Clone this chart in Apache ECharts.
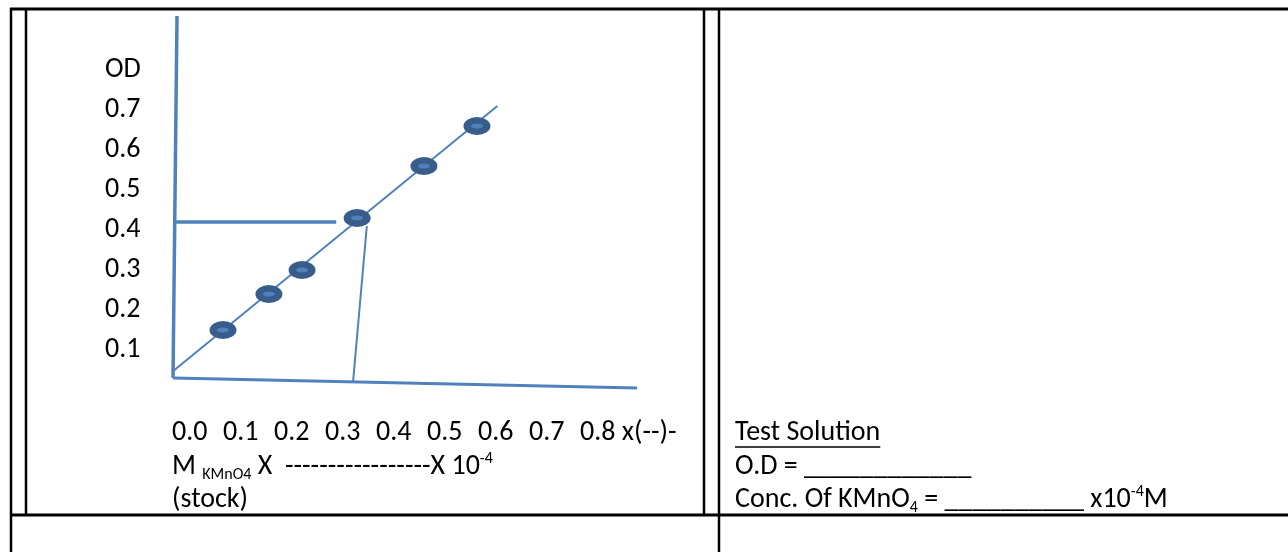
<!DOCTYPE html>
<html>
<head>
<meta charset="utf-8">
<script src="https://cdn.jsdelivr.net/npm/echarts@6/dist/echarts.min.js"></script>
<style>
  html, body { margin: 0; padding: 0; background: #fff; }
  #chart { width: 1288px; height: 552px; }
</style>
</head>
<body>
<div id="chart"></div>
<script>
// tick labels as typed in the sheet
const yTickLabels = ['0.1', '0.2', '0.3', '0.4', '0.5', '0.6', '0.7'];
const yAxisTitle = 'OD';
const xTickLabels = ['0.0', '0.1', '0.2', '0.3', '0.4', '0.5', '0.6', '0.7', '0.8'];
const xUnitSuffix = 'x(--)-';

// standard points (conc, OD) read against the typed scales
const concValues = [0.100, 0.190, 0.255, 0.363, 0.494, 0.598];
const odValues = [0.15, 0.24, 0.30, 0.43, 0.56, 0.66];

// hand drawn lines: best fit, axes, reading of the test solution
const fitLine = [[0.0, 0.045], [0.638, 0.71]];
const yAxisStroke = [[0.0098, 0.935], [0.002, 0.03]];
const xAxisStroke = [[0.002, 0.03], [0.912, 0.005]];
const readOdLine = [[0.008, 0.42], [0.322, 0.42]];
const readConcLine = [[0.382, 0.41], [0.355, 0.02]];

const FONT = 'Carlito, Lato, sans-serif';
const FS = 28;
const BLUE = '#4F81BD';
const DARK = '#385D8A';

const rowY = [433, 467, 500];
const leftX = 172;
const rightX = 735;

const chart = echarts.init(document.getElementById('chart'));

function textWidth(str) {
  const ctx = document.createElement('canvas').getContext('2d');
  ctx.font = FS + 'px ' + FONT;
  return ctx.measureText(str).width;
}

const richStyle = {
  sub: { fontSize: 16, lineHeight: 16, verticalAlign: 'bottom', fontFamily: FONT },
  sup: { fontSize: 16, lineHeight: 16, verticalAlign: 'top', fontFamily: FONT }
};

function label(x, y, text) {
  return {
    type: 'text',
    x: x,
    y: y,
    style: {
      text: text,
      fill: '#000',
      fontSize: FS,
      fontFamily: FONT,
      lineHeight: 32,
      verticalAlign: 'middle',
      rich: richStyle
    }
  };
}

function rule(x1, y1, x2, y2, w) {
  return {
    type: 'line',
    shape: { x1: x1, y1: y1, x2: x2, y2: y2 },
    style: { stroke: '#000', lineWidth: w || 2.5 }
  };
}

function strokeSeries(points, width) {
  return {
    type: 'line',
    data: points,
    showSymbol: false,
    clip: false,
    silent: true,
    lineStyle: { color: BLUE, width: width }
  };
}

const points = concValues.map((c, i) => [c, odValues[i]]);

const option = {
  animation: false,
  grid: { left: 121, right: 402, top: 10, bottom: 162, outerBoundsMode: 'none' },
  xAxis: {
    type: 'value',
    min: -0.1,
    max: 1.4,
    interval: 0.1,
    axisLine: { show: false },
    axisTick: { show: false },
    splitLine: { show: false },
    axisLabel: {
      align: 'left',
      verticalAlign: 'middle',
      margin: rowY[0] - 390,
      fontSize: FS,
      fontFamily: FONT,
      color: '#000',
      formatter: function (v) {
        const i = Math.round(v * 10);
        if (i < 0 || i >= xTickLabels.length) return '';
        return i === xTickLabels.length - 1 ? xTickLabels[i] + ' ' + xUnitSuffix : xTickLabels[i];
      }
    }
  },
  yAxis: {
    type: 'value',
    min: 0,
    max: 0.95,
    interval: 0.1,
    axisLine: { show: false },
    axisTick: { show: false },
    splitLine: { show: false },
    axisLabel: {
      align: 'left',
      margin: 16,
      fontSize: FS,
      fontFamily: FONT,
      color: '#000',
      formatter: function (v) {
        const i = Math.round(v * 10);
        if (i >= 1 && i <= yTickLabels.length) return yTickLabels[i - 1];
        if (i === yTickLabels.length + 1) return yAxisTitle;
        return '';
      }
    }
  },
  series: [
    strokeSeries(yAxisStroke, 3.5),
    strokeSeries(xAxisStroke, 3),
    strokeSeries(fitLine, 2),
    strokeSeries(readOdLine, 3.5),
    strokeSeries(readConcLine, 2),
    {
      type: 'scatter',
      data: points,
      symbol: 'circle',
      symbolSize: [27, 18],
      itemStyle: { color: DARK, opacity: 1 },
      z: 5
    },
    {
      type: 'scatter',
      data: points,
      symbol: 'circle',
      symbolSize: [12, 5],
      itemStyle: { color: BLUE, opacity: 1 },
      z: 6
    }
  ],
  graphic: [
    // table frame
    rule(10, 9, 1288, 9, 3),
    rule(10, 515, 1288, 515, 3),
    rule(11, 8, 11, 552),
    rule(26, 9, 26, 515),
    rule(704, 9, 704, 515),
    rule(719, 9, 719, 552),
    // caption under the graph
    label(leftX, rowY[1], 'M {sub|KMnO4} X  -----------------X 10{sup|-4}'),
    label(leftX, rowY[2], '(stock)'),
    // right cell
    label(rightX, rowY[0], 'Test Solution'),
    {
      type: 'line',
      shape: { x1: rightX, y1: rowY[0] + 14, x2: rightX + textWidth('Test Solution'), y2: rowY[0] + 14 },
      style: { stroke: '#000', lineWidth: 1.5 }
    },
    label(rightX, rowY[1], 'O.D = ____________'),
    label(rightX, rowY[2], 'Conc. Of KMnO{sub|4} = __________ x10{sup|-4}M')
  ]
};

chart.setOption(option);
</script>
</body>
</html>
